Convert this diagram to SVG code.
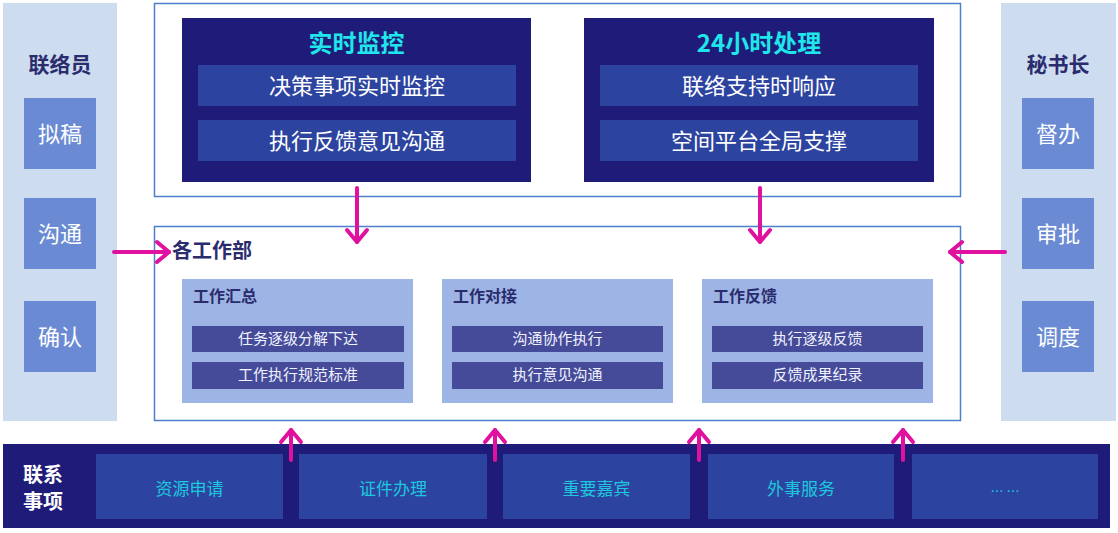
<svg xmlns="http://www.w3.org/2000/svg" width="1118" height="533" viewBox="0 0 1118 533">
<style>
text{font-family:"Noto Sans CJK SC","Noto Sans",sans-serif;dominant-baseline:central;transform:translateY(-2px)}
.side{fill:#cddcef}
.sbox{fill:#6a8bd4}
.sbt{fill:#fff;font-size:22px;text-anchor:middle}
.navt{fill:#2a2c6e;font-size:21px;font-weight:bold;text-anchor:middle}
.frame{fill:#fff;stroke:#4d7fca;stroke-width:1.5}
.dark{fill:#1e1c78}
.row{fill:#2c44a0}
.rowt{fill:#fff;font-size:22px;text-anchor:middle}
.ttl{fill:#1ee6ea;font-size:24px;font-weight:bold;text-anchor:middle}
.sub{fill:#9db4e4}
.subt{fill:#2a2c6e;font-size:16px;font-weight:bold}
.bar{fill:#454b98}
.bart{fill:#f0f2ff;font-size:15px;text-anchor:middle}
.item{fill:#2c43a0}
.itemt{fill:#1ec8dc;font-size:17px;text-anchor:middle}
.lbl{fill:#fff;font-size:20px;font-weight:bold;text-anchor:middle}
.arr{stroke:#e0119e;stroke-width:4;stroke-linecap:round;fill:none;marker-end:url(#ah)}
</style>
<defs>
<marker id="ah" markerUnits="userSpaceOnUse" viewBox="-14 -13 16 26" refX="0" refY="0" markerWidth="16" markerHeight="26" orient="auto" overflow="visible">
<path d="M-12,-10 L0,0 L-12,10" fill="none" stroke="#e0119e" stroke-width="4" stroke-linecap="round" stroke-linejoin="round"/>
</marker>
</defs>
<rect width="1118" height="533" fill="#fff"/>

<g id="liaison">
<rect class="side" x="3" y="3" width="114" height="418"/>
<text class="navt" x="60" y="65">联络员</text>
<rect class="sbox" x="24" y="98" width="72" height="71"/>
<text class="sbt" x="60" y="133.5">拟稿</text>
<rect class="sbox" x="24" y="198" width="72" height="71"/>
<text class="sbt" x="60" y="233.5">沟通</text>
<rect class="sbox" x="24" y="301" width="72" height="71"/>
<text class="sbt" x="60" y="336.5">确认</text>
</g>

<g id="secretary">
<rect class="side" x="1001" y="3" width="115" height="418"/>
<text class="navt" x="1058" y="65">秘书长</text>
<rect class="sbox" x="1022" y="98" width="72" height="71"/>
<text class="sbt" x="1058" y="133.5">督办</text>
<rect class="sbox" x="1022" y="198" width="72" height="71"/>
<text class="sbt" x="1058" y="233.5">审批</text>
<rect class="sbox" x="1022" y="301" width="72" height="71"/>
<text class="sbt" x="1058" y="336.5">调度</text>
</g>

<g id="top-frame">
<rect class="frame" x="154.5" y="3.5" width="806" height="193"/>
</g>

<g id="realtime">
<rect class="dark" x="182" y="18" width="349" height="164"/>
<text class="ttl" x="356.5" y="43">实时监控</text>
<rect class="row" x="198" y="65" width="318" height="41"/>
<text class="rowt" x="357" y="85.5">决策事项实时监控</text>
<rect class="row" x="198" y="120" width="318" height="41"/>
<text class="rowt" x="357" y="140.5">执行反馈意见沟通</text>
</g>

<g id="h24">
<rect class="dark" x="584" y="18" width="350" height="164"/>
<text class="ttl" x="759" y="43">24小时处理</text>
<rect class="row" x="600" y="65" width="318" height="41"/>
<text class="rowt" x="759" y="85.5">联络支持时响应</text>
<rect class="row" x="600" y="120" width="318" height="41"/>
<text class="rowt" x="759" y="140.5">空间平台全局支撑</text>
</g>

<g id="departments">
<rect class="frame" x="154.5" y="226.5" width="806" height="194"/>
<text class="subt" x="172" y="251" style="font-size:20px">各工作部</text>
</g>

<g id="summary">
<rect class="sub" x="182" y="279" width="231" height="124"/>
<text class="subt" x="193" y="297">工作汇总</text>
<rect class="bar" x="192" y="326" width="212" height="26"/>
<text class="bart" x="298" y="339">任务逐级分解下达</text>
<rect class="bar" x="192" y="362" width="212" height="27"/>
<text class="bart" x="298" y="375.5">工作执行规范标准</text>
</g>

<g id="docking">
<rect class="sub" x="442" y="279" width="231" height="124"/>
<text class="subt" x="453" y="297">工作对接</text>
<rect class="bar" x="452" y="326" width="211" height="26"/>
<text class="bart" x="557.5" y="339">沟通协作执行</text>
<rect class="bar" x="452" y="362" width="211" height="27"/>
<text class="bart" x="557.5" y="375.5">执行意见沟通</text>
</g>

<g id="feedback">
<rect class="sub" x="702" y="279" width="231" height="124"/>
<text class="subt" x="713" y="297">工作反馈</text>
<rect class="bar" x="712" y="326" width="211" height="26"/>
<text class="bart" x="817.5" y="339">执行逐级反馈</text>
<rect class="bar" x="712" y="362" width="211" height="27"/>
<text class="bart" x="817.5" y="375.5">反馈成果纪录</text>
</g>

<g id="matters">
<rect class="dark" x="3" y="444" width="1107" height="84"/>
<text class="lbl" x="43" y="475">联系</text>
<text class="lbl" x="43" y="502">事项</text>
<rect class="item" x="96" y="454" width="187" height="65"/>
<text class="itemt" x="189.5" y="489">资源申请</text>
<rect class="item" x="299" y="454" width="188" height="65"/>
<text class="itemt" x="393" y="489">证件办理</text>
<rect class="item" x="503" y="454" width="187" height="65"/>
<text class="itemt" x="596.5" y="489">重要嘉宾</text>
<rect class="item" x="708" y="454" width="186" height="65"/>
<text class="itemt" x="801" y="489">外事服务</text>
<rect class="item" x="912" y="454" width="186" height="65"/>
<text class="itemt" x="1005" y="492" style="font-size:13px">… …</text>
</g>

<g id="connectors">
<path class="arr" d="M357,188 V242"/>
<path class="arr" d="M760,188 V242"/>
<path class="arr" d="M114,252 H169"/>
<path class="arr" d="M1005,252 H950"/>
<path class="arr" d="M291,460 V430"/>
<path class="arr" d="M495,460 V430"/>
<path class="arr" d="M699,460 V430"/>
<path class="arr" d="M903,460 V430"/>
</g>
</svg>
